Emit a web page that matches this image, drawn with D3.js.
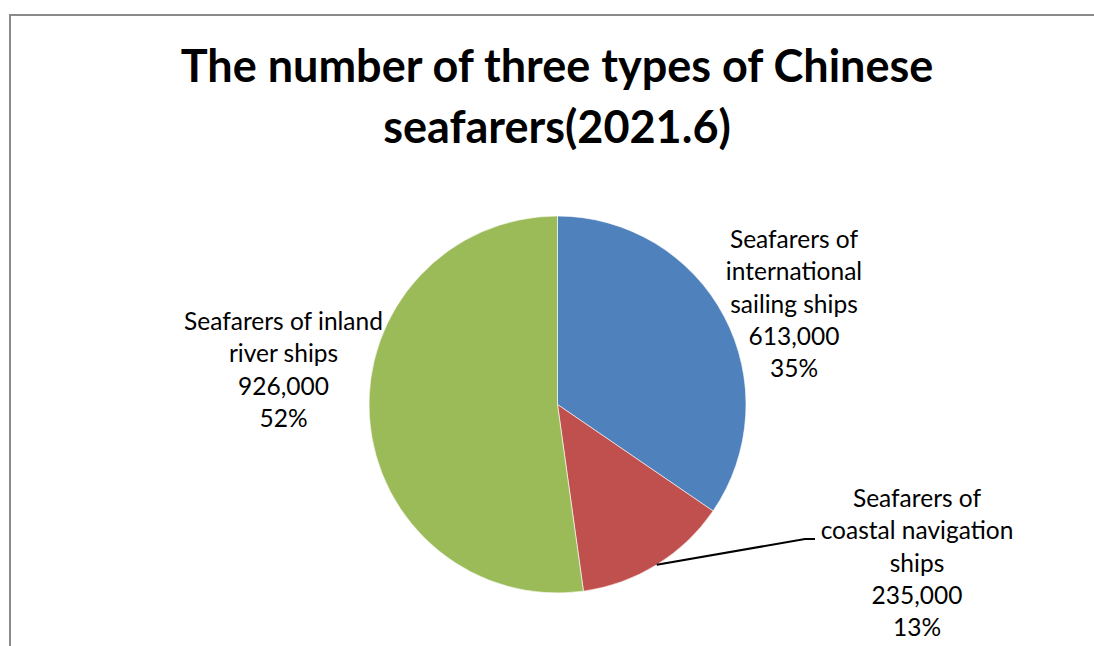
<!DOCTYPE html>
<html><head><meta charset="utf-8">
<script src="https://cdn.jsdelivr.net/npm/d3@7"></script>
<style>body{margin:0;background:#fff}svg{display:block}</style>
</head><body>
<svg id="c" width="1094" height="646"></svg>
<script>
const titleLines = ["The number of three types of Chinese", "seafarers(2021.6)"];
const categories = ["Seafarers of international sailing ships", "Seafarers of coastal navigation ships", "Seafarers of inland river ships"];
const values = [613000, 235000, 926000];
const labelLines = [
  ["Seafarers of", "international", "sailing ships"],
  ["Seafarers of", "coastal navigation", "ships"],
  ["Seafarers of inland", "river ships"]
];
const colors = ["#4F81BD", "#C0504D", "#9BBB59"];

const svg = d3.select("#c");
svg.append("rect").attr("x", 10).attr("y", 15).attr("width", 1300).attr("height", 900)
  .attr("fill", "#fff").attr("stroke", "#8a8a8a").attr("stroke-width", 2);

svg.append("g").selectAll("text").data(titleLines).join("text")
  .attr("x", 557).attr("y", (d, i) => 82 + i * 61)
  .attr("text-anchor", "middle").attr("font-family", "Lato, sans-serif")
  .attr("font-weight", "bold").attr("font-size", 45).attr("fill", "#000").text(d => d);

const cx = 557.5, cy = 404.5, r = 188.5;
const data = categories.map((c, i) => ({ c, v: values[i], i }));
const pie = d3.pie().value(d => d.v).sort(null);
const arcs = pie(data);
const arc = d3.arc().innerRadius(0).outerRadius(r);
const total = d3.sum(values);
const g = svg.append("g").attr("transform", `translate(${cx},${cy})`);
g.selectAll("path").data(arcs).join("path")
  .attr("d", arc).attr("fill", d => colors[d.data.i])
  .attr("stroke", "#ffffff").attr("stroke-opacity", 0.6).attr("stroke-width", 1);

// label positions (center x, first baseline y)
const labelPos = [[794, 248], [917, 507], [283.5, 330]];
const fmt = d3.format(",");
const lh = 32.3;
arcs.forEach((a, k) => {
  const lines = labelLines[k].concat([fmt(a.data.v), Math.round(a.data.v / total * 100) + "%"]);
  const [lx, ly] = labelPos[k];
  svg.append("g").selectAll("text").data(lines).join("text")
    .attr("x", lx).attr("y", (d, i) => ly + i * lh)
    .attr("text-anchor", "middle").attr("font-family", "Lato, sans-serif")
    .attr("font-size", 24.5).attr("fill", "#000").text(d => d);
});

// leader line for coastal slice
const a1 = arcs[1];
const mid = (a1.startAngle + a1.endAngle) / 2;
const p0 = [cx + Math.sin(mid) * r, cy - Math.cos(mid) * r];
svg.append("path")
  .attr("d", d3.line()([p0, [805, 539], [815, 539]]))
  .attr("fill", "none").attr("stroke", "#000").attr("stroke-width", 2);
</script>
</body></html>
